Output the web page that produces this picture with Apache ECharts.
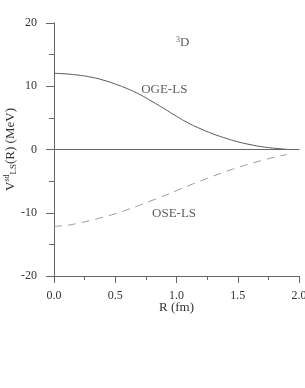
<!DOCTYPE html>
<html><head><meta charset="utf-8">
<script src="https://cdn.jsdelivr.net/npm/echarts@6/dist/echarts.min.js"></script>
<style>html,body{margin:0;padding:0;background:#fff}#c{width:305px;height:388px}</style>
</head><body><div id="c"></div>
<script>
var R = [0.0,0.1,0.2,0.3,0.4,0.5,0.6,0.7,0.8,0.9,1.0,1.1,1.2,1.3,1.4,1.5,1.6,1.7,1.8,1.9];
var ogeLS = [12.05,11.95,11.75,11.45,10.98,10.35,9.6,8.7,7.6,6.45,5.25,4.15,3.25,2.45,1.8,1.22,0.78,0.43,0.2,0.03];
var oseLS = [-12.15,-12.0,-11.65,-11.2,-10.7,-10.15,-9.5,-8.8,-8.05,-7.3,-6.5,-5.7,-4.95,-4.2,-3.5,-2.85,-2.25,-1.72,-1.22,-0.8];
var xTicks = [0,0.5,1.0,1.5,2.0];
var yTicks = [-20,-10,0,10,20];
var labels = [
  {text:'{s|3}D', at:[1.05,16.9]},
  {text:'OGE-LS', at:[0.9,9.4]},
  {text:'OSE-LS', at:[0.98,-10.1]}
];
var FONT = '"Liberation Serif","DejaVu Serif",serif';
var TXT = '#333';
var AX = '#666';
function pairs(xs, ys){ return xs.map(function(x,i){return [x, ys[i]];}); }
var chart = echarts.init(document.getElementById('c'), null, {renderer:'canvas'});
chart.setOption({
  animation:false,
  backgroundColor:'#fff',
  grid:{left:54, right:6, top:23, bottom:112, containLabel:false, outerBoundsMode:'none'},
  xAxis:[{
    type:'value', min:xTicks[0], max:xTicks[xTicks.length-1], interval:0.5,
    name:'R (fm)', nameLocation:'middle', nameGap:25, nameMoveOverlap:false,
    nameTextStyle:{fontFamily:FONT, fontSize:13, color:TXT},
    axisLine:{show:true, onZero:false, lineStyle:{color:AX, width:1}},
    axisTick:{show:true, inside:false, length:7, lineStyle:{color:AX}},
    minorTick:{show:true, splitNumber:2, length:4, lineStyle:{color:AX}},
    splitLine:{show:false},
    axisLabel:{fontFamily:FONT, fontSize:12, color:TXT, margin:14,
      formatter:function(v){return v.toFixed(1);}}
  },{
    type:'value', position:'top', min:0, max:2,
    axisLine:{show:true, lineStyle:{color:AX}}, axisTick:{show:false},
    axisLabel:{show:false}, splitLine:{show:false}
  }],
  yAxis:[{
    type:'value', min:yTicks[0], max:yTicks[yTicks.length-1], interval:10,
    name:'V{sup|sd}{sub|LS}(R) (MeV)', nameLocation:'middle', nameGap:36, nameRotate:90,
    nameMoveOverlap:false,
    nameTextStyle:{fontFamily:FONT, fontSize:13, color:TXT,
      rich:{sup:{fontFamily:FONT, fontSize:8, color:TXT, verticalAlign:'top', padding:[0,0,7,0]},
            sub:{fontFamily:FONT, fontSize:9, color:TXT, verticalAlign:'bottom', padding:[6,0,0,0]}}},
    axisLine:{show:true, onZero:false, lineStyle:{color:AX, width:1}},
    axisTick:{show:true, inside:false, length:8, lineStyle:{color:AX}},
    minorTick:{show:true, splitNumber:2, length:5, lineStyle:{color:AX}},
    splitLine:{show:false},
    axisLabel:{fontFamily:FONT, fontSize:12, color:TXT, margin:17}
  },{
    type:'value', position:'right', offset:3, min:-20, max:20,
    axisLine:{show:true, lineStyle:{color:AX}}, axisTick:{show:false},
    axisLabel:{show:false}, splitLine:{show:false}
  }],
  series:[{
    type:'line', data:pairs(R, ogeLS), smooth:true, symbol:'none',
    lineStyle:{color:'#555', width:1},
    markLine:{silent:true, symbol:'none', label:{show:false},
      lineStyle:{color:AX, width:1, type:'solid'}, data:[{yAxis:0}]}
  },{
    type:'line', data:pairs(R, oseLS), smooth:true, symbol:'none',
    lineStyle:{color:'#999', width:1, type:[8,6]}
  },{
    type:'scatter', symbolSize:0, silent:true,
    data:labels.map(function(l){return {value:l.at, name:l.text};}),
    label:{show:true, position:'inside', formatter:function(p){return p.name;},
      fontFamily:FONT, fontSize:13, color:TXT,
      rich:{s:{fontFamily:FONT, fontSize:8, color:TXT, verticalAlign:'top', padding:[0,0,6,0]}}}
  }]
});
</script></body></html>
